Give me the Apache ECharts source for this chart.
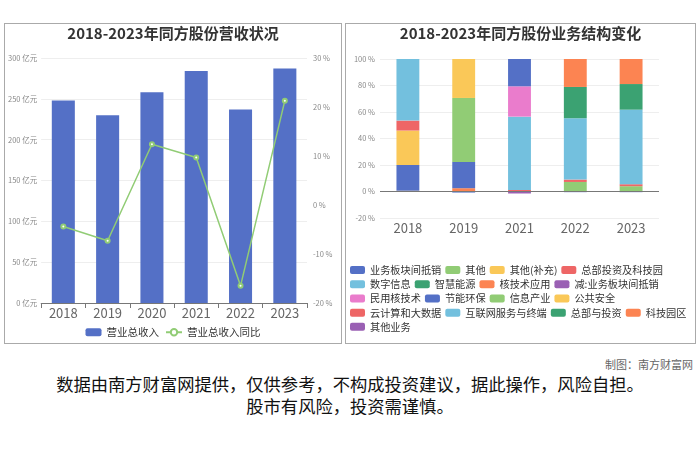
<!DOCTYPE html>
<html>
<head>
<meta charset="utf-8">
<script src="https://cdn.jsdelivr.net/npm/echarts@6/dist/echarts.min.js"></script>
<style>
  body { margin: 0; width: 700px; height: 467px; background: #fff; position: relative; font-family: "Noto Sans CJK SC", "Noto Sans", sans-serif; overflow: hidden; }
  .panel { position: absolute; top: 23px; height: 319px; border: 1px solid #aaa; }
  #left_chart { left: 4px; width: 336px; }
  #right_chart { left: 345px; width: 349px; }
  #credit { position: absolute; right: 7px; top: 356px; font-size: 11px; color: #666; }
  #note { position: absolute; left: 0; width: 700px; top: 373px; text-align: center; font-size: 17.3px; line-height: 22px; color: #111; }
</style>
</head>
<body>
<div id="left_chart" class="panel"></div>
<div id="right_chart" class="panel"></div>
<div id="credit">制图：南方财富网</div>
<div id="note">数据由南方财富网提供，仅供参考，不构成投资建议，据此操作，风险自担。<br>股市有风险，投资需谨慎。</div>
<script>
var palette = ['#5470c6','#91cc75','#fac858','#ee6666','#73c0de','#3ba272','#fc8452','#9a60b4','#ea7ccc'];

// left chart data
var years = ['2018','2019','2020','2021','2022','2023'];
var revenue = [248, 230, 258, 284, 237, 287];          // 亿元
var revenue_yoy = [-4.4, -7.3, 12.4, 9.7, -16.5, 21.3]; // %

// right chart data (percent of revenue)
var seg_years = ['2018','2019','2021','2022','2023'];
var seg_names = ['业务板块间抵销','其他','其他(补充)','总部投资及科技园','数字信息','智慧能源','核技术应用','减:业务板块间抵销',
  '民用核技术','节能环保','信息产业','公共安全','云计算和大数据','互联网服务与终端','总部与投资','科技园区','其他业务'];
var s_offset     = [0, -0.8, 0, -0.5, -0.5];
var s_other      = [0, 0, 0, 7.2, 4.0];
var s_other_sup  = [0.6, 0, 0, 0, 0];
var s_hq_park    = [0, 0, 1.2, 1.8, 1.5];
var s_digital    = [0, 0, 55.3, 46.3, 56.3];
var s_energy     = [0, 0, 0, 23.6, 19.3];
var s_nuclear    = [0, 2.5, 0, 21.1, 18.9];
var s_minus_off  = [0, 0, -1.5, 0, 0];
var s_civil_nuc  = [0, 0, 22.9, 0, 0];
var s_saving     = [19.4, 19.8, 20.6, 0, 0];
var s_info       = [0, 48.3, 0, 0, 0];
var s_security   = [26.0, 29.4, 0, 0, 0];
var s_cloud      = [7.5, 0, 0, 0, 0];
var s_internet   = [46.5, 0, 0, 0, 0];
var s_hq_invest  = [0, 0, 0, 0, 0];
var s_tech_park  = [0, 0, 0, 0, 0];
var s_other_biz  = [0, 0, 0, 0, 0];
var seg_values = [s_offset, s_other, s_other_sup, s_hq_park, s_digital, s_energy, s_nuclear, s_minus_off,
  s_civil_nuc, s_saving, s_info, s_security, s_cloud, s_internet, s_hq_invest, s_tech_park, s_other_biz];

var font = '"Noto Sans CJK SC", sans-serif';

function render_revenue(chart_id){
  var chart_div = echarts.init(document.getElementById(chart_id));
  var option = {
    color: ['#5470c6', '#91cc75'],
    textStyle: {fontFamily: font},
    title: {
      text: '2018-2023年同方股份营收状况',
      left: 'center', top: 2, padding: 0,
      textStyle: {fontSize: 15, fontWeight: 'bold', color: '#333', fontFamily: font}
    },
    legend: {
      data: ['营业总收入', '营业总收入同比'],
      top: 303, left: 'center', padding: 0,
      itemWidth: 16, itemHeight: 8, itemGap: 6,
      textStyle: {fontSize: 10.5, color: '#333'}
    },
    grid: {left: 33, right: 34, top: 34, bottom: 40},
    xAxis: {
      type: 'category', data: years,
      axisLine: {lineStyle: {color: '#777'}},
      axisTick: {show: true},
      axisLabel: {fontSize: 13, color: '#666', margin: 4}
    },
    yAxis: [
      {
        type: 'value', min: 0, max: 300, interval: 50,
        axisLabel: {formatter: '{value} 亿元', fontSize: 7.5, color: '#888', margin: 4},
        splitLine: {lineStyle: {color: '#eee'}}
      },
      {
        type: 'value', min: -20, max: 30, interval: 10,
        axisLabel: {formatter: '{value} %', fontSize: 7.5, color: '#888', margin: 6},
        splitLine: {show: false}
      }
    ],
    series: [
      {
        name: '营业总收入', type: 'bar', barWidth: '52%',
        data: revenue
      },
      {
        name: '营业总收入同比', type: 'line', yAxisIndex: 1,
        symbol: 'emptyCircle', symbolSize: 4,
        lineStyle: {width: 1.5},
        data: revenue_yoy
      }
    ]
  };
  chart_div.setOption(option);
}

function render_structure(chart_id){
  var chart_div = echarts.init(document.getElementById(chart_id));
  var series = [];
  seg_names.forEach(function(n, i){
    series.push({
      name: n, type: 'bar', stack: 'total', barWidth: '41%',
      data: seg_values[i]
    });
  });
  // zero baseline, the category axis itself sits at the bottom
  series[0].markLine = {
    silent: true, symbol: 'none', label: {show: false},
    lineStyle: {color: '#777', type: 'solid', width: 1},
    data: [{yAxis: 0}]
  };
  var option = {
    color: palette,
    textStyle: {fontFamily: font},
    title: {
      text: '2018-2023年同方股份业务结构变化',
      left: 'center', top: 2, padding: 0,
      textStyle: {fontSize: 15, fontWeight: 'bold', color: '#333', fontFamily: font}
    },
    legend: {
      data: seg_names,
      left: 4, right: 0, top: 241, padding: 0,
      itemWidth: 15, itemHeight: 8, itemGap: 4,
      textStyle: {fontSize: 10.2, color: '#333'}
    },
    grid: {left: 34, right: 36, top: 35, bottom: 125},
    xAxis: {
      type: 'category', data: seg_years,
      axisLine: {show: false, onZero: false},
      axisTick: {show: false},
      axisLabel: {fontSize: 13, color: '#666', margin: 4}
    },
    yAxis: {
      type: 'value', min: -20, max: 100, interval: 20,
      axisLabel: {formatter: '{value} %', fontSize: 7.5, color: '#888', margin: 5},
      splitLine: {lineStyle: {color: '#eee'}}
    },
    series: series
  };
  chart_div.setOption(option);
}

render_revenue('left_chart');
render_structure('right_chart');
</script>
</body>
</html>
